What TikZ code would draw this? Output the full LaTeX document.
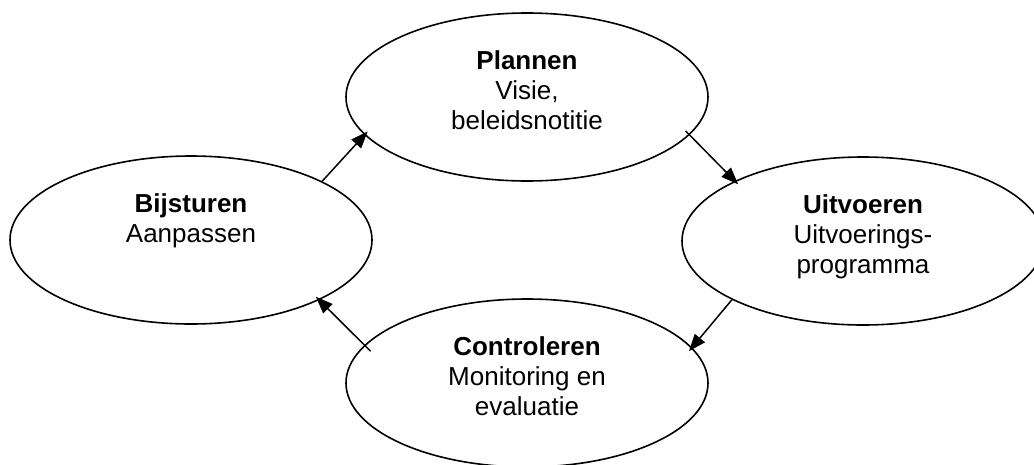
\documentclass[tikz,border=0pt]{standalone}
\usepackage{fontspec}
\setmainfont{Liberation Sans}
\usetikzlibrary{shapes.geometric,arrows.meta}
\begin{document}
\begin{tikzpicture}[x=1pt,y=-1pt,
  ell/.style={ellipse,draw=black,line width=1.6pt,minimum width=362pt,minimum height=168pt,inner sep=0pt,outer sep=0pt},
  txt/.style={align=center,font=\fontsize{26pt}{30pt}\selectfont,inner sep=0pt,anchor=north},
  arr/.style={line width=1.5pt,-{Triangle[length=17pt,width=13pt]},shorten >=-4pt}]
\useasboundingbox (0,0) rectangle (1034,464);
\clip (0,0) rectangle (1034,464);
\node[ell] (p) at (527,97) {};
\node[ell] (b) at (191,240) {};
\node[ell] (u) at (863,241) {};
\node[ell] (c) at (527,383) {};
\node[txt] (pt) at ([yshift=-37pt]p.north) {\textbf{Plannen}\\Visie,\\beleidsnotitie};
\node[txt] (bt) at ([yshift=-37pt]b.north) {\textbf{Bijsturen}\\Aanpassen};
\node[txt] (ut) at ([yshift=-37pt]u.north) {\textbf{Uitvoeren}\\Uitvoerings-\\programma};
\node[txt] (ct) at ([yshift=-37pt]c.north) {\textbf{Controleren}\\Monitoring en\\evaluatie};
\draw[arr] (b.24.6) -- (p.193);
\draw[arr,shorten <=-5pt] (p.347) -- (u.155);
\draw[arr] (u.204) -- (c.12.5);
\draw[arr,shorten <=-8pt] (c.167.6) -- (b.335);
\end{tikzpicture}
\end{document}
